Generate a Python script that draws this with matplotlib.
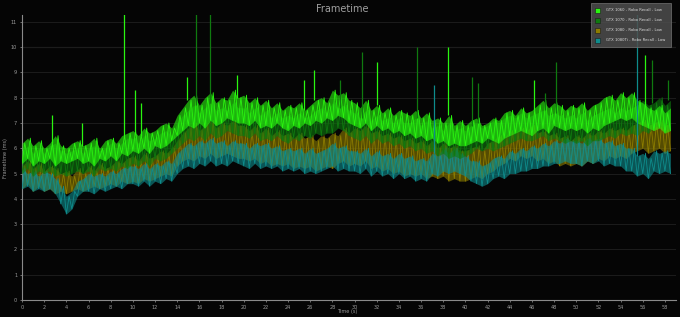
import numpy as np
import matplotlib
matplotlib.use("Agg")
import matplotlib.pyplot as plt

# ---------------- data (0.5 s resolution, 0 .. 58.5 s) ----------------
t_step = 0.5

hi_1060 = [6.2,6.4,6.1,6.3,6.0,6.2,6.5,6.1,6.0,6.2,
           6.3,6.1,6.2,6.4,6.0,6.3,6.4,6.2,6.5,6.6,
           6.7,6.5,6.8,6.6,6.7,6.9,7.0,6.8,7.3,7.6,
           7.9,8.1,7.7,8.0,8.2,7.8,8.0,7.9,8.3,8.0,
           8.1,7.8,8.0,7.7,7.9,7.6,7.8,7.5,7.7,7.6,
           7.8,7.5,7.7,7.9,8.0,7.8,8.3,8.1,8.2,7.9,
           7.8,7.6,7.9,7.5,7.7,7.4,7.6,7.3,7.5,7.4,
           7.3,7.5,7.2,7.4,7.1,7.2,7.0,7.3,6.9,7.1,
           6.9,7.1,7.2,6.9,7.0,7.2,7.1,7.4,7.5,7.3,
           7.6,7.4,7.5,7.7,7.9,7.6,7.8,7.7,7.5,7.7,
           7.6,7.8,7.5,7.7,7.8,8.0,8.1,7.9,8.2,8.0,
           8.2,7.9,7.8,7.6,7.5,7.7,7.4,7.6]
lo_1060 = [5.4,5.6,5.3,5.5,5.4,5.6,5.3,5.5,5.4,5.5,
           5.6,5.4,5.5,5.3,5.6,5.5,5.7,5.5,5.8,5.7,
           5.9,5.8,6.0,5.8,6.1,6.0,6.1,6.3,6.5,6.7,
           6.9,6.8,7.0,6.8,7.1,6.9,7.0,7.2,7.1,7.0,
           7.0,6.9,7.1,6.8,6.9,6.8,7.0,6.8,6.7,6.9,
           6.8,7.0,6.9,7.1,7.0,7.2,7.1,7.3,7.2,7.0,
           6.9,6.8,7.0,6.7,6.9,6.7,6.8,6.6,6.7,6.5,
           6.6,6.4,6.5,6.3,6.4,6.2,6.3,6.1,6.2,6.1,
           6.1,6.2,6.3,6.2,6.4,6.3,6.2,6.4,6.5,6.6,
           6.7,6.6,6.5,6.7,6.8,6.6,6.9,6.8,6.7,6.8,
           6.7,6.8,6.6,6.8,6.7,6.9,7.0,7.1,7.2,7.1,
           7.2,7.0,6.9,6.8,6.7,6.8,6.6,6.7]

hi_1070 = [5.9,6.1,5.8,6.0,5.8,6.1,6.2,5.9,5.8,5.9,
           6.0,5.8,6.0,6.1,5.9,6.0,6.2,6.0,6.2,6.4,
           6.4,6.2,6.5,6.3,6.4,6.6,6.7,6.5,7.0,7.3,
           7.5,7.7,7.4,7.6,7.8,7.5,7.6,7.5,7.8,7.6,
           7.6,7.4,7.6,7.3,7.5,7.2,7.4,7.2,7.3,7.2,
           7.4,7.2,7.3,7.5,7.6,7.4,7.8,7.6,7.7,7.5,
           7.4,7.2,7.5,7.1,7.3,7.1,7.2,7.0,7.2,7.0,
           7.0,7.2,6.9,7.1,6.8,6.9,6.7,7.0,6.7,6.8,
           6.7,6.9,7.0,6.8,6.9,7.1,7.0,7.2,7.3,7.2,
           7.4,7.2,7.3,7.4,7.5,7.3,7.4,7.3,7.2,7.3,
           7.2,7.4,7.1,7.3,7.4,7.5,7.6,7.4,7.6,7.5,
           7.6,7.7,7.9,7.7,7.8,8.0,7.7,7.9]
lo_1070 = [5.0,5.2,4.9,5.1,5.0,5.1,4.9,5.0,4.9,5.0,
           5.1,5.0,5.1,4.9,5.2,5.1,5.2,5.1,5.3,5.2,
           5.4,5.3,5.5,5.3,5.6,5.5,5.6,5.8,6.0,6.2,
           6.4,6.3,6.5,6.3,6.6,6.4,6.5,6.7,6.6,6.5,
           6.5,6.4,6.6,6.3,6.4,6.3,6.5,6.3,6.2,6.4,
           6.3,6.5,6.4,6.6,6.5,6.6,6.6,6.8,6.7,6.5,
           6.4,6.3,6.5,6.2,6.4,6.2,6.3,6.1,6.2,6.0,
           6.1,5.9,6.0,5.8,5.9,5.7,5.8,5.6,5.7,5.6,
           5.7,5.8,6.0,5.9,6.0,5.9,6.0,6.1,6.2,6.3,
           6.4,6.3,6.3,6.4,6.5,6.3,6.4,6.3,6.2,6.3,
           6.2,6.3,6.1,6.3,6.3,6.4,6.5,6.4,6.6,6.5,
           6.6,6.5,6.7,6.6,6.8,6.9,6.7,6.8]

hi_1080 = [5.3,5.5,5.2,5.4,5.1,5.3,5.2,5.0,5.1,4.9,
           5.2,5.0,5.3,5.1,5.4,5.2,5.3,5.5,5.4,5.6,
           5.7,5.5,5.8,5.6,5.7,5.9,5.8,6.0,6.3,6.6,
           6.8,7.0,6.7,6.9,7.1,6.8,7.0,6.9,7.1,6.9,
           6.9,6.7,6.9,6.6,6.8,6.5,6.7,6.5,6.6,6.4,
           6.6,6.4,6.5,6.3,6.5,6.4,6.6,6.5,6.8,6.6,
           6.8,6.7,6.9,6.6,6.7,6.5,6.6,6.4,6.5,6.3,
           6.4,6.2,6.3,6.1,6.3,6.0,6.2,6.0,6.1,5.9,
           5.9,6.0,6.1,5.9,6.2,6.3,6.5,6.4,6.7,6.6,
           6.8,6.7,6.9,6.6,6.7,6.5,6.6,6.4,6.5,6.3,
           6.5,6.4,6.6,6.5,6.7,6.6,6.8,6.7,6.8,6.7,
           6.9,7.0,7.1,6.9,7.0,7.1,6.9,7.0]
lo_1080 = [4.4,4.6,4.3,4.5,4.3,4.4,4.2,4.3,4.2,4.3,
           4.4,4.3,4.4,4.5,4.4,4.5,4.6,4.5,4.7,4.6,
           4.7,4.6,4.8,4.7,4.8,4.9,5.0,4.9,5.3,5.5,
           5.6,5.5,5.7,5.6,5.8,5.6,5.7,5.8,5.7,5.6,
           5.6,5.5,5.6,5.4,5.5,5.3,5.4,5.3,5.4,5.2,
           5.3,5.2,5.3,5.1,5.2,5.3,5.2,5.4,5.5,5.3,
           5.4,5.3,5.5,5.2,5.3,5.1,5.2,5.0,5.1,4.9,
           5.0,4.9,5.0,4.8,4.9,4.8,4.9,4.7,4.8,4.7,
           4.7,4.8,4.9,4.8,5.0,5.1,5.3,5.4,5.6,5.5,
           5.7,5.6,5.7,5.5,5.6,5.4,5.5,5.3,5.4,5.3,
           5.4,5.3,5.5,5.4,5.6,5.5,5.7,5.6,5.7,5.6,
           5.8,5.9,6.0,5.8,5.9,6.0,5.8,5.9]

hi_1080ti = [5.2,5.0,5.1,4.9,5.1,5.0,4.8,4.5,4.1,4.3,
             4.7,4.8,5.0,4.9,5.0,4.9,5.1,5.0,5.2,5.3,
             5.3,5.2,5.4,5.2,5.4,5.3,5.5,5.4,5.8,6.0,
             6.2,6.1,6.3,6.2,6.4,6.2,6.3,6.1,6.3,6.2,
             6.2,6.0,6.2,6.1,6.2,6.0,6.1,5.9,6.0,5.9,
             6.0,5.8,6.0,5.8,5.9,6.0,6.2,6.0,6.1,5.9,
             5.9,5.8,6.0,5.7,5.9,5.7,5.8,5.6,5.8,5.6,
             5.7,5.5,5.6,5.5,5.8,5.7,6.0,5.8,6.0,5.8,
             5.7,5.5,5.5,5.3,5.4,5.6,5.7,5.6,5.9,5.8,
             6.0,5.9,6.1,6.0,6.2,6.1,6.3,6.2,6.4,6.3,
             6.3,6.2,6.4,6.3,6.4,6.2,6.3,6.1,6.2,6.0,
             6.0,5.7,5.8,5.6,5.9,5.8,5.9,5.8]
lo_1080ti = [4.4,4.5,4.3,4.4,4.3,4.4,4.2,3.8,3.4,3.6,
             4.1,4.3,4.3,4.2,4.4,4.3,4.4,4.5,4.4,4.6,
             4.6,4.5,4.7,4.5,4.7,4.6,4.8,4.7,5.0,5.2,
             5.3,5.2,5.4,5.3,5.5,5.3,5.4,5.3,5.5,5.4,
             5.3,5.2,5.4,5.2,5.3,5.2,5.3,5.1,5.2,5.1,
             5.2,5.0,5.1,5.0,5.1,5.2,5.3,5.1,5.2,5.1,
             5.1,5.0,5.2,4.9,5.1,4.9,5.0,4.8,5.0,4.8,
             4.9,4.7,4.8,4.7,5.0,4.9,5.1,5.0,5.1,5.0,
             4.9,4.7,4.6,4.5,4.6,4.8,4.9,4.8,5.0,5.0,
             5.1,5.1,5.2,5.2,5.3,5.3,5.4,5.4,5.5,5.4,
             5.4,5.3,5.5,5.4,5.5,5.3,5.4,5.3,5.3,5.1,
             5.1,4.9,5.0,4.8,5.1,5.0,5.1,5.0]

# isolated frametime spikes: time (s), peak (ms), series index
spike_t = [0.3, 2.7, 5.4, 9.2, 10.2, 10.7, 14.9, 15.7, 17.0, 19.4, 25.4, 26.3, 28.7,
           30.7, 32.0, 35.6, 37.2, 38.4, 40.6, 41.1, 46.2, 47.2, 48.2, 55.5, 56.2, 56.8, 58.3]
spike_v = [6.4, 7.3, 7.0, 11.3, 8.3, 7.8, 8.8, 11.3, 11.3, 8.9, 8.7, 9.1, 8.7,
           9.8, 9.4, 10.0, 8.5, 10.0, 8.8, 8.6, 8.7, 8.2, 9.4, 11.4, 9.7, 9.5, 8.7]
spike_s = [0, 0, 0, 0, 0, 0, 0, 1, 1, 0, 0, 0, 1,
           1, 0, 1, 3, 0, 1, 1, 0, 1, 1, 3, 0, 1, 1]

series_names = ["GTX 1060 - Robo Recall - Low", "GTX 1070 - Robo Recall - Low",
                "GTX 1080 - Robo Recall - Low", "GTX 1080Ti - Robo Recall - Low"]
series_colors = ["#2af510", "#0f7a0f", "#8c7c00", "#0e8c8c"]
y_ticks = list(range(0, 12))
x_ticks = list(range(0, 59, 2))

# ---------------- drawing ----------------
fig = plt.figure(figsize=(6.8, 3.17), dpi=100, facecolor="#050505")
ax = fig.add_axes([22/680, 17/317, (676-22)/680, (300-15)/317])
ax.set_facecolor("#050505")

lows = [lo_1060, lo_1070, lo_1080, lo_1080ti]
highs = [hi_1060, hi_1070, hi_1080, hi_1080ti]
n = len(hi_1060)
t = np.arange(n) * t_step

# draw order: 1080, 1080Ti, 1070, 1060 (top)
order = [2, 3, 1, 0]
for k, i in enumerate(order):
    lo = np.array(lows[i]); hi = np.array(highs[i])
    col = series_colors[i]
    z = 2 + k
    ax.fill_between(t, lo, hi, color=col, alpha=0.6, lw=0, zorder=z)
    # zig-zag trace between the low and high readings (frame-to-frame noise)
    xs = np.empty(2 * n - 1); ys = np.empty(2 * n - 1)
    xs[0::2] = t; ys[0::2] = lo
    xs[1::2] = t[:-1] + t_step / 2; ys[1::2] = hi[:-1]
    ax.plot(xs, ys, color=col, lw=0.6, zorder=z + 0.5)

for st, sv, si in zip(spike_t, spike_v, spike_s):
    base = highs[si][min(int(round(st / t_step)), n - 1)]
    ax.vlines(st, base, sv, color=series_colors[si], lw=0.9, zorder=7)

ax.set_xlim(0, 59)
ax.set_ylim(0, 11.27)
ax.set_xticks(x_ticks)
ax.set_yticks(y_ticks)
ax.tick_params(colors="#9a9a9a", labelsize=3.6, length=1.5, width=0.5, pad=2)
ax.grid(axis="y", color="#1c1c1c", lw=0.7, zorder=0)
ax.axhline(10, color="#3a3a3a", lw=0.8, zorder=1)
for s in ["top", "right"]:
    ax.spines[s].set_visible(False)
for s in ["left", "bottom"]:
    ax.spines[s].set_color("#8a8a8a")
    ax.spines[s].set_linewidth(0.8)

fig.text(342/680, 1 - 9/317, "Frametime", color="#a0a0a0", fontsize=7, ha="center", va="center")
fig.text(347/680, 1 - 311/317, "Time (s)", color="#9a9a9a", fontsize=3.6, ha="center", va="center")
fig.text(6/680, 1 - 158/317, "Frametime (ms)", color="#9a9a9a", fontsize=3.6, ha="center",
         va="center", rotation=90)

handles = [plt.Line2D([], [], marker="s", ls="", color=c, markersize=3.6,
                      markeredgecolor="#1a1a1a", markeredgewidth=0.4) for c in series_colors]
leg = fig.legend(handles, series_names, loc="upper left", bbox_to_anchor=(591/680, 1 - 3/317),
                 fontsize=2.7, frameon=True, facecolor="#4e4e4e", edgecolor="#707070",
                 labelcolor="#dddddd", handlelength=0.8, handletextpad=2.0, borderpad=1.3,
                 borderaxespad=0, labelspacing=1.6, framealpha=0.85, fancybox=False)
leg.get_frame().set_linewidth(0.6)
leg.set_zorder(20)

fig.savefig("out.png", dpi=100, facecolor="#050505")
